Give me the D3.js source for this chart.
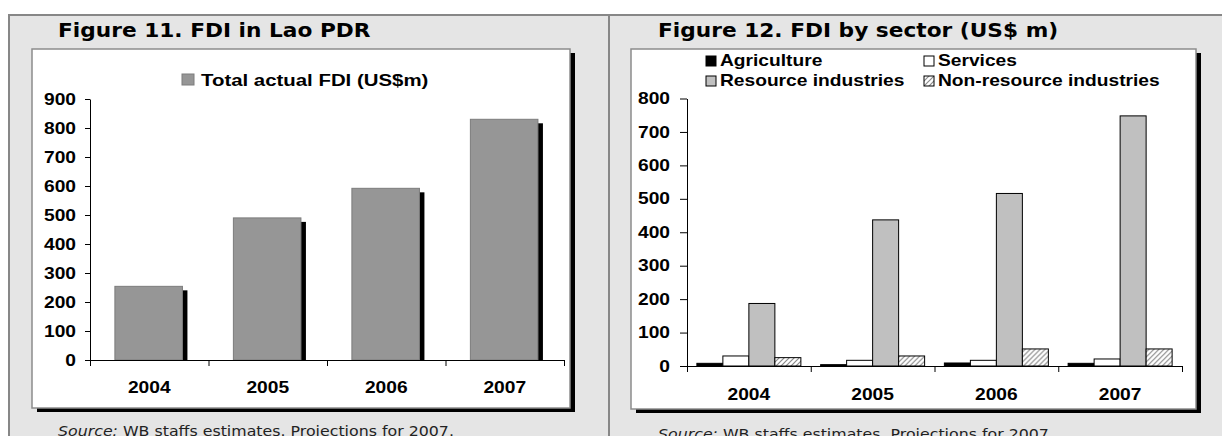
<!DOCTYPE html>
<html>
<head>
<meta charset="utf-8">
<script src="https://cdn.jsdelivr.net/npm/d3@7"></script>
<style>
  body { margin: 0; background: #fff; }
  svg { display: block; }
</style>
</head>
<body>
<svg id="chart" width="1222" height="436"></svg>
<script>
// data
const years = ["2004", "2005", "2006", "2007"]
const totalFDI = [254, 490, 592, 830]
const sectors = ["Agriculture", "Services", "Resource industries", "Non-resource industries"]
const agriculture = [8, 4, 9, 8]
const services = [30, 17, 17, 21]
const resource = [187, 437, 516, 748]
const nonResource = [25, 30, 51, 51]
const leftTicks = [0, 100, 200, 300, 400, 500, 600, 700, 800, 900]
const rightTicks = [0, 100, 200, 300, 400, 500, 600, 700, 800]

const svg = d3.select("#chart")
const arial = "'Liberation Sans', Arial, sans-serif"
const verdana = "'DejaVu Sans', Verdana, sans-serif"

// the picture is a bit wider than the fonts, stretch the text sideways
function stretch(sel, sx) {
    sel.each(function() {
        const t = d3.select(this)
        const x = +t.attr("x") || 0
        t.attr("x", x / sx).attr("transform", `scale(${sx},1)`)
    })
}

const defs = svg.append("defs")
defs.append("pattern")
    .attr("id", "hatch")
    .attr("patternUnits", "userSpaceOnUse")
    .attr("width", 5).attr("height", 5)
    .call(p => p.append("rect").attr("width", 5).attr("height", 5).attr("fill", "#fff"))
    .call(p => p.append("path")
        .attr("d", "M-1,1 l2,-2 M0,5 l5,-5 M4,6 l2,-2")
        .attr("stroke", "#8a8a8a").attr("stroke-width", 1.2))

// grey page panel and divider
svg.append("rect")
    .attr("x", 9).attr("y", 15)
    .attr("width", 1230).attr("height", 440)
    .attr("fill", "#e5e5e5")
    .attr("stroke", "#878787").attr("stroke-width", 2)
svg.append("line")
    .attr("x1", 609).attr("x2", 609).attr("y1", 15).attr("y2", 436)
    .attr("stroke", "#878787").attr("stroke-width", 2)

function frame(x, y, w, h) {
    svg.append("rect").attr("x", x + 5).attr("y", y + 4)
        .attr("width", w).attr("height", h).attr("fill", "#000")
    svg.append("rect").attr("x", x).attr("y", y)
        .attr("width", w).attr("height", h)
        .attr("fill", "#fff").attr("stroke", "#8c8c8c").attr("stroke-width", 1.5)
}

function title(x, y, txt) {
    svg.append("text").attr("x", x).attr("y", y)
        .attr("font-family", verdana).attr("font-weight", "bold")
        .attr("font-size", 20).attr("fill", "#000")
        .text(txt)
        .call(stretch, 1.085)
}

function source(x, y) {
    const t = svg.append("text").attr("x", x).attr("y", y)
        .attr("font-family", verdana).attr("font-size", 14).attr("fill", "#222")
    t.append("tspan").attr("font-style", "italic").text("Source:")
    t.append("tspan").text(" WB staffs estimates. Projections for 2007.")
    t.call(stretch, 1.13)
}

function styleAxis(g) {
    g.selectAll("path, line").attr("stroke", "#000").attr("stroke-width", 1)
    g.selectAll("text").attr("font-family", arial).attr("font-weight", "bold")
        .attr("font-size", 16).attr("fill", "#000")
}

// ---------- Figure 11 ----------
title(58, 37, "Figure 11. FDI in Lao PDR")
frame(32, 49, 538, 359)

const x1 = d3.scaleBand().domain(years).range([90, 564])
const y1 = d3.scaleLinear().domain([0, 900]).range([360, 99])

const g1 = svg.append("g")
g1.selectAll(".shadow")
    .data(totalFDI)
    .enter()
    .append("rect")
    .attr("x", (d, i) => x1(years[i]) + x1.bandwidth() * 0.21 + 5)
    .attr("y", d => y1(d) + 4)
    .attr("width", x1.bandwidth() * 0.57)
    .attr("height", d => y1(0) - y1(d) - 4)
    .attr("fill", "#000")
g1.selectAll(".bar")
    .data(totalFDI)
    .enter()
    .append("rect")
    .attr("x", (d, i) => x1(years[i]) + x1.bandwidth() * 0.21)
    .attr("y", d => y1(d))
    .attr("width", x1.bandwidth() * 0.57)
    .attr("height", d => y1(0) - y1(d))
    .attr("fill", "#969696")
    .attr("stroke", "#7c7c7c").attr("stroke-width", 1)

const ax1 = svg.append("g").attr("transform", "translate(90,0)")
    .call(d3.axisLeft(y1).tickValues(leftTicks).tickSize(5).tickSizeOuter(0))
    .call(styleAxis)
ax1.selectAll("text").attr("x", -14).call(stretch, 1.2)

// boundary ticks on the category axis
const xb1 = d3.scaleLinear().domain([0, 4]).range([90, 564])
svg.append("g").attr("transform", "translate(0,360)")
    .call(d3.axisBottom(xb1).ticks(4).tickFormat("").tickSize(6).tickSizeOuter(0))
    .call(styleAxis)
const lab1 = svg.append("g").attr("transform", "translate(0,360)")
    .call(d3.axisBottom(x1).tickSize(0))
    .call(styleAxis)
lab1.select(".domain").remove()
lab1.selectAll("text").attr("y", 33).attr("dy", 0).call(stretch, 1.2)

// legend
svg.append("rect").attr("x", 182).attr("y", 74).attr("width", 12).attr("height", 11)
    .attr("fill", "#969696").attr("stroke", "#7c7c7c")
svg.append("text").attr("x", 201).attr("y", 86)
    .attr("font-family", arial).attr("font-weight", "bold").attr("font-size", 17)
    .text("Total actual FDI (US$m)")
    .call(stretch, 1.2)

source(58, 436)

// ---------- Figure 12 ----------
title(658, 37, "Figure 12. FDI by sector (US$ m)")
frame(631, 49, 565, 360)

const x2 = d3.scaleBand().domain(years).range([687, 1182])
const xs = d3.scaleBand().domain(sectors).range([0, x2.bandwidth()]).paddingInner(0).paddingOuter(0.38)
const y2 = d3.scaleLinear().domain([0, 800]).range([366, 98.5])
const fills = ["#000", "#fff", "#c0c0c0", "url(#hatch)"]
const seriesValues = [agriculture, services, resource, nonResource]

const rows = years.map((yr, i) => sectors.map((s, j) => ({ year: yr, sector: s, value: seriesValues[j][i], k: j })))

svg.append("g")
    .selectAll("g")
    .data(rows)
    .enter()
    .append("g")
    .attr("transform", (d, i) => `translate(${x2(years[i])},0)`)
    .selectAll("rect")
    .data(d => d)
    .enter()
    .append("rect")
    .attr("x", d => xs(d.sector))
    .attr("y", d => y2(d.value))
    .attr("width", xs.bandwidth())
    .attr("height", d => y2(0) - y2(d.value))
    .attr("fill", d => fills[d.k])
    .attr("stroke", "#000").attr("stroke-width", 1)

const ax2 = svg.append("g").attr("transform", "translate(687,0)")
    .call(d3.axisLeft(y2).tickValues(rightTicks).tickSize(7).tickSizeOuter(0))
    .call(styleAxis)
ax2.selectAll("text").attr("x", -17).call(stretch, 1.2)

const xb2 = d3.scaleLinear().domain([0, 4]).range([687, 1182])
svg.append("g").attr("transform", "translate(0,366)")
    .call(d3.axisBottom(xb2).ticks(4).tickFormat("").tickSize(6).tickSizeOuter(0))
    .call(styleAxis)
const lab2 = svg.append("g").attr("transform", "translate(0,366)")
    .call(d3.axisBottom(x2).tickSize(0))
    .call(styleAxis)
lab2.select(".domain").remove()
lab2.selectAll("text").attr("y", 34).attr("dy", 0).call(stretch, 1.2)

// legend, two columns
const legendPos = [[706, 66], [924, 66], [706, 86], [924, 86]]
const leg = svg.append("g")
    .selectAll("g")
    .data(sectors)
    .enter()
    .append("g")
    .attr("transform", (d, i) => `translate(${legendPos[i][0]},${legendPos[i][1]})`)
leg.append("rect")
    .attr("x", 0).attr("y", -10)
    .attr("width", 10).attr("height", 10)
    .attr("fill", (d, i) => fills[i])
    .attr("stroke", "#000")
leg.append("text")
    .attr("x", 14)
    .attr("font-family", arial).attr("font-weight", "bold").attr("font-size", 16)
    .text(d => d)
    .call(stretch, 1.2)

source(658, 439)
</script>
</body>
</html>
